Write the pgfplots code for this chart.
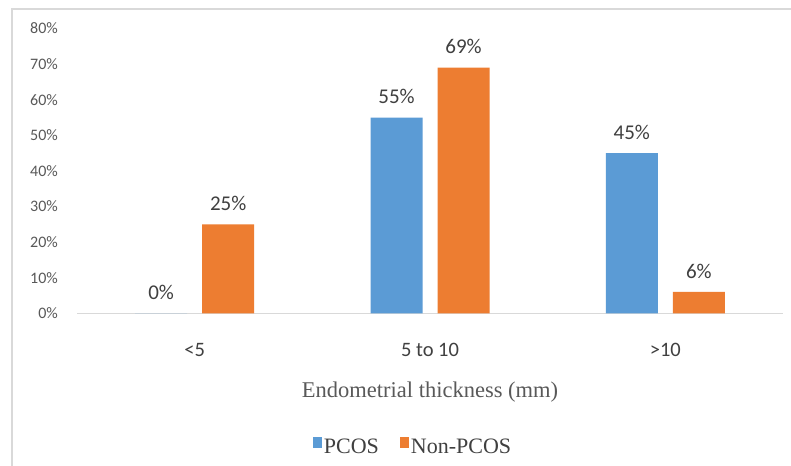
\documentclass[border=0pt]{standalone}
\usepackage{fontspec}
\usepackage{pgfplots}
\pgfplotsset{compat=1.18}
\setmainfont{Liberation Serif}
\newfontfamily\calibri{Carlito}
\definecolor{pblue}{HTML}{5B9BD5}
\definecolor{porange}{HTML}{ED7D31}
\definecolor{framegray}{HTML}{D9D9D9}
\definecolor{tickgray}{HTML}{595959}
\definecolor{labgray}{HTML}{404040}

\begin{document}
\begin{tikzpicture}
  \useasboundingbox (0,0) rectangle (791bp,466bp);
  \fill[white] (0,0) rectangle (791bp,466bp);
  % chart frame (cut off at the right and bottom)
  \draw[framegray, line width=2bp] (12bp,0) -- (12bp,457bp) -- (795bp,457bp);
  \begin{axis}[
      at={(77bp,152.7bp)}, anchor=south west,
      scale only axis, width=706bp, height=284.8bp,
      ybar=15bp, bar width=52bp,
      xmin=-0.5, xmax=2.5, ymin=0, ymax=80,
      clip=false,
      axis line style={draw=none},
      major tick length=0pt,
      /pgf/number format/assume math mode=true,
      xtick={0,1,2},
      xticklabels={<5, 5 to 10, >10},
      ytick={0,10,...,80},
      yticklabels={0\%,10\%,20\%,30\%,40\%,50\%,60\%,70\%,80\%},
      xticklabel style={font=\calibri\fontsize{20.5bp}{24bp}\selectfont,
        text=labgray, inner sep=0pt, anchor=center, yshift=-36.2bp},
      yticklabel style={font=\calibri\fontsize{16bp}{19bp}\selectfont,
        text=tickgray, inner sep=0pt, anchor=east, xshift=-19bp},
      xlabel={Endometrial thickness (mm)},
      xlabel style={at={(axis description cs:0.5,0)}, anchor=center,
        yshift=-78.7bp, font=\fontsize{22.5bp}{26bp}\selectfont, text=tickgray},
      nodes near coords={\pgfmathprintnumber{\pgfplotspointmeta}\%},
      every node near coord/.append style={font=\calibri\fontsize{21bp}{25bp}\selectfont,
        text=labgray, anchor=south, inner sep=0pt, yshift=13.5bp},
      legend columns=2,
      legend style={draw=none, fill=none, at={(0.5,0)}, anchor=center,
        xshift=-17bp, yshift=-133.7bp, font=\fontsize{22bp}{26bp}\selectfont,
        text=labgray,
        /tikz/every even column/.append style={column sep=20bp},
        nodes={inner sep=1.5bp}},
      legend image code/.code={\fill[#1] (0bp,-1bp) rectangle (9bp,10bp);},
    ]
    \draw[framegray, line width=1.3bp] (rel axis cs:0,0) -- (rel axis cs:1,0);
    \addplot[fill=pblue, draw=none] coordinates {(0,0) (1,55) (2,45)};
    \addplot[fill=porange, draw=none] coordinates {(0,25) (1,69) (2,6)};
    \legend{PCOS, Non-PCOS}
  \end{axis}
\end{tikzpicture}
\end{document}
